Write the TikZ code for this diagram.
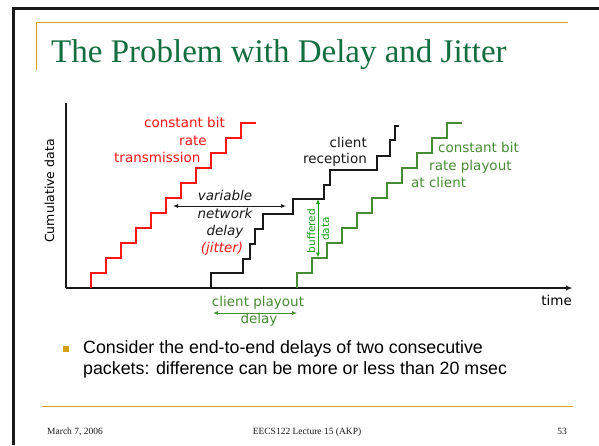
\documentclass[tikz,border=0pt]{standalone}
\usepackage{fontspec}
\setmainfont{Liberation Serif}
\newfontfamily\chartfont{DejaVu Sans}
\newfontfamily\bodyfont{Liberation Sans}
\usetikzlibrary{arrows.meta,positioning}
\definecolor{Jtitle}{RGB}{18,110,62}
\definecolor{Jgold}{RGB}{214,160,20}
\definecolor{Jred}{RGB}{255,20,20}
\definecolor{Jplay}{RGB}{70,140,50}
\definecolor{Jbuf}{RGB}{20,160,20}
\definecolor{Jdark}{RGB}{25,25,25}
\tikzset{
    jlabel/.style={inner sep=0pt, font=\chartfont\fontsize{13.5}{16}\selectfont},
    jslant/.style={inner sep=0pt, font=\chartfont\itshape\fontsize{13.5}{16}\selectfont},
    jsmall/.style={inner sep=0pt, font=\chartfont\fontsize{10.5}{12}\selectfont},
    jstair/.style={line width=1.3pt},
    jaxis/.style={line width=2pt, Jdark},
    jarr/.style={{Latex[length=5pt,width=4pt]}-{Latex[length=5pt,width=4pt]}, line width=0.9pt},
    jfoot/.style={inner sep=0pt, font=\fontsize{9.5}{11}\selectfont, text=Jdark},
    jbody/.style={inner sep=0pt, font=\bodyfont\fontsize{17.8}{21}\selectfont, anchor=base west},
}
\begin{document}
\begin{tikzpicture}[x=1pt, y=-1pt]
\useasboundingbox (0,0) rectangle (599,445);

    % slide frame and title
    \draw [line width=3pt, Jdark] (13,445) -- (13,8) -- (599,8);
    \draw [line width=1pt, Jgold] (36.5,70) -- (36.5,22) -- (568,22);
    \node [inner sep=0pt, anchor=base west, text=Jtitle, font=\fontsize{33}{36}\selectfont]
        (title) at (51,62) {The Problem with Delay and Jitter};

    % axes
    \coordinate (orig) at (65.5,288);
    \coordinate (ytop) at (65.5,103);
    \coordinate (xend) at (573,288);
    \draw [jaxis] (ytop) -- (orig);
    \draw [jaxis, -{Latex[length=7pt,width=5pt]}] (orig) -- (xend);
    \node [jlabel, font=\chartfont\fontsize{12.5}{14}\selectfont, rotate=90, anchor=base]
        (ylab) at (54,191) {Cumulative data};
    \node [jlabel, anchor=base east] (time) at (572,305) {time};

    % staircases
    \draw [jstair, Jred] (91,288) \foreach \k in {1,...,11} { -- ++(0,-15) -- ++(15,0) };
    \draw [jstair, Jplay] (297,288) \foreach \k in {1,...,11} { -- ++(0,-15) -- ++(15,0) };
    \draw [jstair, Jdark] (211,288) |- (243,273) |- (250,259) |- (255,244) |- (263,229)
        |- (293,214) |- (324,199) |- (330,185) |- (377,170) |- (390,156) |- (395,140) |- (399,126);

    % sender label
    \node [jlabel, Jred, anchor=base west] (cbr1) at (144,127) {constant bit};
    \node [jlabel, Jred, anchor=base west] (cbr2) at (179,145) {rate};
    \node [jlabel, Jred, anchor=base west] (cbr3) at (114,162) {transmission};

    % receiver label
    \node [jlabel, Jdark, anchor=base east] (recv1) at (367,147) {client};
    \node [jlabel, Jdark, anchor=base east] (recv2) at (367,163) {reception};

    % playout label
    \node [jlabel, Jplay, anchor=base west] (play1) at (438,152) {constant bit};
    \node [jlabel, Jplay, anchor=base west] (play2) at (429,170) {rate playout};
    \node [jlabel, Jplay, anchor=base west] (play3) at (411,187) {at client};

    % network delay
    \coordinate (jitL) at (173,206);
    \coordinate (jitR) at (286,206);
    \draw [jarr, Jdark] (jitL) -- (jitR);
    \node [jslant, Jdark, anchor=base] (var1) at (225,200) {variable};
    \node [jslant, Jdark, anchor=base] (var2) at (225,218) {network};
    \node [jslant, Jdark, anchor=base] (var3) at (225,235) {delay};
    \node [jslant, Jred, anchor=base] (var4) at (222,252) {(jitter)};

    % buffered data
    \coordinate (bufT) at (318,199);
    \coordinate (bufB) at (318,257.5);
    \draw [jarr, Jbuf] (bufT) -- (bufB);
    \node [jsmall, Jbuf, rotate=90, anchor=base] (buf1) at (315,231) {buffered};
    \node [jsmall, Jbuf, rotate=90, anchor=base] (buf2) at (329,229) {data};

    % playout delay
    \coordinate (cpdL) at (213,313);
    \coordinate (cpdR) at (297,313);
    \draw [jarr, Jplay] (cpdL) -- (cpdR);
    \node [jlabel, Jplay, anchor=base] (cpd1) at (258,306) {client playout};
    \node [jlabel, Jplay, anchor=base] (cpd2) at (259,323) {delay};

    % bullet
    \node [fill=Jgold, minimum size=6.5pt, inner sep=0pt] (dot) at (66,349) {};
    \node [jbody] (line1) at (83,353.3) {Consider the end-to-end delays of two consecutive};
    \node [jbody] (line2) at (83,374) {packets: difference can be more or less than 20 msec};

    % footer
    \draw [line width=1pt, Jgold] (41.5,406) -- (573,406);
    \node [jfoot, anchor=base west] (date) at (47,434) {March 7, 2006};
    \node [jfoot, anchor=base] (course) at (307,434) {EECS122 Lecture 15 (AKP)};
    \node [jfoot, anchor=base east] (page) at (567,434) {53};

\end{tikzpicture}
\end{document}
